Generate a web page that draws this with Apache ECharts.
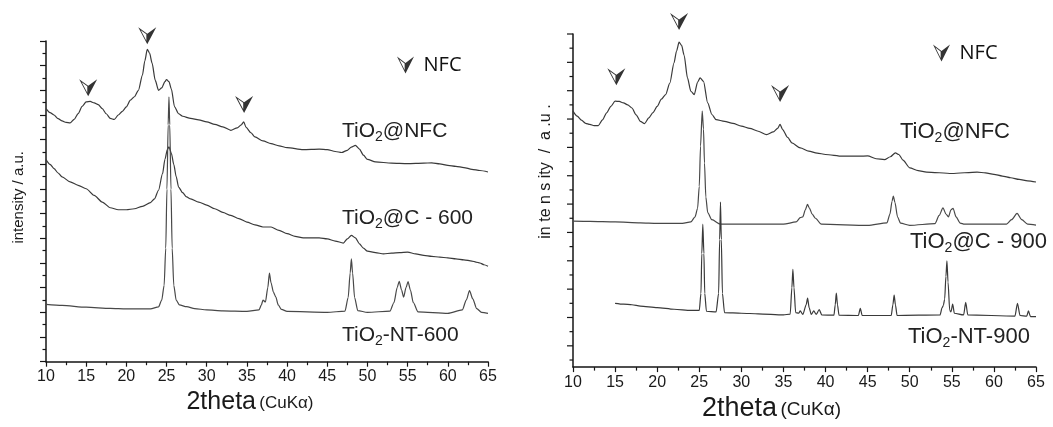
<!DOCTYPE html>
<html>
<head>
<meta charset="utf-8">
<title>XRD TiO2</title>
<script src="https://cdn.jsdelivr.net/npm/echarts@6.0.0/dist/echarts.min.js"></script>
<style>
  html, body { margin: 0; padding: 0; background: #fff; }
  #chart { width: 1053px; height: 427px; }
</style>
</head>
<body>
<div id="chart"></div>
<script>
// left panel (600 °C) - [2theta, intensity in axis units]
var nfcLeft = [[10,10.26],[10.5,10.1],[11,10.0],[11.5,9.85],[12,9.76],[12.5,9.7],[13,9.68],[13.5,9.82],[14,10.06],[14.5,10.35],[15,10.53],[15.5,10.55],[16,10.49],[16.5,10.42],[17,10.26],[17.5,10.05],[18,9.86],[18.5,9.82],[19,10.0],[19.5,10.15],[20,10.33],[20.5,10.6],[21,10.74],[21.5,11.0],[22,11.62],[22.3,12.2],[22.6,12.66],[22.9,12.5],[23.2,12.1],[23.6,11.4],[24,11.0],[24.4,11.1],[24.8,11.35],[25,11.44],[25.3,11.35],[25.6,11.05],[26,10.33],[26.5,10.05],[27,9.95],[28,9.86],[29,9.8],[30,9.72],[31,9.62],[32,9.52],[33,9.38],[33.8,9.48],[34.3,9.6],[34.6,9.72],[34.9,9.5],[35.5,9.28],[36,9.11],[37,8.95],[38,8.84],[39,8.75],[40,8.68],[42,8.6],[44,8.62],[45,8.6],[46,8.52],[46.8,8.48],[47.5,8.57],[48,8.7],[48.5,8.77],[49,8.62],[49.5,8.37],[50,8.2],[51,8.1],[53,8.05],[55,8.03],[57,8.05],[58,8.06],[59,8.02],[60,7.96],[61,7.92],[62,7.87],[63,7.8],[64,7.75],[65,7.69]];
var c600 = [[10,8.19],[10.5,8.0],[11,7.83],[11.5,7.65],[12,7.49],[13,7.29],[14,7.15],[15,7.01],[16,6.74],[17,6.47],[18,6.24],[19,6.16],[20,6.16],[21,6.2],[22,6.3],[23,6.45],[23.5,6.6],[24,6.95],[24.5,7.62],[24.8,8.2],[25.1,8.6],[25.3,8.71],[25.6,8.45],[25.9,8.0],[26.2,7.5],[26.5,7.08],[27,6.85],[27.5,6.68],[28,6.6],[29,6.47],[30,6.35],[31,6.2],[32,6.05],[33,5.93],[34,5.8],[35,5.66],[36,5.55],[37,5.46],[38,5.46],[39,5.32],[40,5.19],[41,5.08],[42,5.02],[43,5.02],[44,5.02],[45,4.98],[46,4.89],[47,4.81],[47.5,4.98],[48,5.12],[48.5,5.02],[49,4.78],[49.5,4.6],[50,4.48],[51,4.42],[52,4.37],[53,4.4],[54,4.42],[55,4.44],[56,4.37],[57,4.31],[58,4.27],[59,4.24],[60,4.21],[61,4.17],[62,4.13],[63,4.08],[63.5,4.04],[64,4.0],[64.5,3.93],[65,3.87]];
var nt600 = [[10,2.32],[12,2.28],[15,2.21],[18,2.16],[20,2.14],[23,2.14],[24,2.22],[24.4,2.5],[24.7,3.1],[24.9,4.6],[25.05,7.0],[25.2,9.6],[25.3,10.74],[25.4,9.6],[25.55,7.0],[25.7,4.6],[25.9,3.1],[26.2,2.5],[26.6,2.3],[27.5,2.23],[28.5,2.15],[30,2.1],[32,2.06],[35,2.04],[36.5,2.1],[36.8,2.3],[37,2.5],[37.3,2.42],[37.6,3.0],[37.8,3.59],[38.0,3.2],[38.3,2.82],[38.6,2.62],[38.9,2.3],[39.3,2.12],[40,2.04],[45,2.0],[47.2,2.05],[47.6,2.6],[47.85,3.6],[48.0,4.17],[48.15,3.6],[48.4,2.6],[48.8,2.07],[50,2.0],[52.8,2.05],[53.3,2.4],[53.7,3.0],[53.95,3.26],[54.25,2.9],[54.5,2.62],[54.8,3.0],[55.05,3.25],[55.35,2.9],[55.7,2.4],[56.3,2.02],[60,1.96],[61.8,2.1],[62.3,2.5],[62.7,2.88],[63.1,2.55],[63.6,2.15],[64.2,2.0],[65,1.96]];

// right panel (900 °C)
var nfcRight = [[10,9.03],[10.5,8.85],[11,8.71],[11.5,8.6],[12,8.56],[12.5,8.52],[13,8.52],[13.5,8.72],[14,8.97],[14.5,9.2],[15,9.38],[15.5,9.37],[16,9.32],[16.5,9.25],[17,9.14],[17.5,8.9],[18,8.67],[18.5,8.59],[19,8.79],[19.5,8.98],[20,9.2],[20.5,9.45],[21,9.61],[21.5,10.02],[22,10.73],[22.3,11.15],[22.6,11.46],[22.9,11.35],[23.2,11.0],[23.6,10.2],[24,9.73],[24.4,9.61],[24.8,10.05],[25.1,10.2],[25.5,10.08],[26,9.32],[26.5,8.91],[27,8.73],[28,8.67],[29,8.6],[30,8.5],[31,8.42],[32,8.32],[33,8.2],[33.8,8.3],[34.3,8.42],[34.6,8.56],[34.9,8.38],[35.5,8.1],[36,7.91],[37,7.73],[38,7.62],[39,7.55],[40,7.5],[42,7.44],[44,7.44],[45,7.45],[46,7.35],[47,7.32],[47.7,7.42],[48.3,7.56],[48.7,7.5],[49.2,7.3],[50,7.03],[51,6.93],[52,6.88],[55,6.83],[58,6.88],[59,6.85],[60,6.8],[61,6.74],[62,6.68],[63,6.62],[64,6.57],[65,6.53]];
var c900 = [[10,5.15],[12,5.14],[15,5.12],[18,5.09],[20,5.07],[23,5.07],[24,5.12],[24.5,5.3],[24.8,5.6],[25.0,6.38],[25.15,7.8],[25.35,9.03],[25.5,8.4],[25.62,7.2],[25.78,6.0],[26.0,5.45],[26.5,5.2],[27.5,5.04],[30,5.04],[35,5.04],[36.5,5.12],[37.0,5.27],[37.3,5.3],[37.6,5.55],[37.85,5.74],[38.1,5.6],[38.4,5.4],[38.8,5.25],[39.5,5.04],[45,5.0],[47.3,5.09],[47.65,5.4],[47.9,5.85],[48.05,6.03],[48.25,5.8],[48.55,5.3],[48.9,5.08],[50,5.0],[53,5.06],[53.5,5.35],[53.95,5.62],[54.3,5.4],[54.6,5.3],[54.9,5.55],[55.15,5.6],[55.5,5.3],[56,5.08],[56.5,5.04],[61.5,5.04],[62.1,5.2],[62.75,5.42],[63.3,5.2],[64,5.04],[65,5.01]];
var nt900 = [[15,2.25],[16,2.22],[17,2.2],[18,2.15],[20,2.1],[22,2.04],[24,2.0],[25.0,2.0],[25.2,2.6],[25.3,4.0],[25.42,5.04],[25.55,4.0],[25.65,2.6],[25.85,1.97],[27.0,1.95],[27.3,2.6],[27.42,4.5],[27.52,5.82],[27.62,4.5],[27.75,2.6],[28.0,1.92],[30,1.9],[32,1.88],[35,1.84],[35.8,1.87],[36.0,2.8],[36.12,3.45],[36.25,2.8],[36.45,1.92],[36.8,1.9],[37.0,1.98],[37.3,1.86],[37.7,2.2],[37.87,2.43],[38.05,2.1],[38.3,1.86],[38.6,1.98],[38.9,1.86],[39.25,2.03],[39.55,1.84],[41.0,1.83],[41.15,2.2],[41.28,2.61],[41.42,2.2],[41.6,1.83],[43.9,1.82],[44.13,2.07],[44.35,1.82],[47.8,1.82],[48.0,2.2],[48.15,2.54],[48.3,2.2],[48.5,1.82],[53.6,1.84],[53.85,2.1],[54.0,2.18],[54.15,2.4],[54.3,3.2],[54.42,3.75],[54.55,3.0],[54.75,2.0],[54.9,1.95],[55.1,2.22],[55.3,1.9],[56.4,1.84],[56.65,2.28],[56.9,1.84],[62.5,1.8],[62.8,2.25],[63.1,1.82],[63.9,1.8],[64.1,1.98],[64.35,1.78],[65,1.78]];

// NFC reflection markers
var nfcMarksLeft = [[15.25, 11.1], [22.6, 13.21], [34.65, 10.43]];
var nfcMarksRight = [[15.15, 10.24], [22.6, 12.19], [34.6, 9.65]];

// tick values
var xTicks = [10, 15, 20, 25, 30, 35, 40, 45, 50, 55, 60, 65];
var rightMajorTicks = [0.75, 1.75, 2.75, 3.75, 4.75, 5.75, 6.75, 7.75, 8.75, 9.75, 10.75, 11.75];
var rightMinorTicks = [0.25, 1.25, 2.25, 3.25, 4.25, 5.25, 6.25, 7.25, 8.25, 9.25, 10.25, 11.25];

var leftNames = ['@NFC', '@C - 600', '-NT-600'];
var rightNames = ['@NFC', '@C - 900', '-NT-900'];

(function () {
  var myChart = echarts.init(document.getElementById('chart'));

  var AXIS = '#151515';
  var TRACE = '#3a3a3a';
  var FONT = 'Liberation Sans';
  // left half hollow, right half solid
  var NFC_ICON = 'path://M0,0L50,38L50,100ZM14.1,17L45,78.8L45,40.5ZM50,38L100,0L50,100Z';

  function xAxis(gridIndex, gap, padRight, big, small) {
    return {
      type: 'value',
      gridIndex: gridIndex,
      min: xTicks[0],
      max: xTicks[xTicks.length - 1],
      interval: 5,
      axisLine: { lineStyle: { color: AXIS, width: 1.5 } },
      axisTick: { length: 5, lineStyle: { color: AXIS, width: 1.2 } },
      minorTick: { show: true, splitNumber: 2, length: 3.5, lineStyle: { color: AXIS, width: 1.2 } },
      splitLine: { show: false },
      axisLabel: { fontSize: 16, color: '#1a1a1a', fontFamily: FONT, margin: 7 },
      name: '{a|2theta} {b|(CuKα)}',
      nameLocation: 'middle',
      nameGap: gap,
      nameTextStyle: {
        padding: [0, padRight, 0, 0],
        rich: {
          a: { fontSize: big, fontFamily: FONT, color: '#1a1a1a' },
          b: { fontSize: small, fontFamily: FONT, color: '#1a1a1a', padding: [3, 0, 0, 0] }
        }
      }
    };
  }

  function trace(name, data, xi, yi, color) {
    return {
      name: name,
      type: 'line',
      xAxisIndex: xi,
      yAxisIndex: yi,
      data: data,
      showSymbol: false,
      smooth: 0.25,
      smoothMonotone: 'x',
      lineStyle: { color: color, width: 1.2 },
      silent: true
    };
  }

  function marks(data, xi, yi) {
    return {
      name: 'NFC',
      type: 'scatter',
      xAxisIndex: xi,
      yAxisIndex: yi,
      data: data,
      symbol: NFC_ICON,
      symbolSize: [18, 17],
      symbolKeepAspect: false,
      itemStyle: { color: '#000' },
      clip: false,
      silent: true,
      z: 5
    };
  }

  function label(x, y, rest, size) {
    return {
      type: 'text',
      x: x,
      y: y,
      style: {
        text: '{m|TiO}{s|2}{m|' + rest + '}',
        verticalAlign: 'middle',
        rich: {
          m: { fontSize: size, fontFamily: FONT, fill: '#222' },
          s: { fontSize: Math.round(size * 0.65), fontFamily: FONT, fill: '#222', padding: [Math.round(size * 0.55), 0, 0, 0] }
        }
      }
    };
  }

  function legend(left, top) {
    return {
      left: left,
      top: top,
      data: ['NFC'],
      icon: NFC_ICON,
      itemWidth: 20,
      itemHeight: 17,
      selectedMode: false,
      textStyle: { fontSize: 20, fontFamily: 'Open Sans', color: '#111', padding: [0, 0, 0, 3] }
    };
  }

  // right panel y ticks do not start at the axis origin, so they are drawn
  // through the y scale by a small custom series: [value, tick length]
  var rightTickData = rightMajorTicks.map(function (v) { return [v, 6]; })
    .concat(rightMinorTicks.map(function (v) { return [v, 3.5]; }));

  var option = {
    animation: false,
    backgroundColor: '#fff',
    grid: [
      { left: 46, top: 41, width: 442, height: 320.7 },
      { left: 573, top: 34, width: 463, height: 334 }
    ],
    legend: [legend(392, 50), legend(928, 38)],
    xAxis: [xAxis(0, 28, 34, 25, 17), xAxis(1, 22, 66, 27, 19)],
    yAxis: [
      {
        type: 'value', gridIndex: 0, min: 0, max: 13, interval: 1,
        axisLine: { lineStyle: { color: AXIS, width: 1.5 } },
        axisTick: { length: 6, lineStyle: { color: AXIS, width: 1.2 } },
        minorTick: { show: true, splitNumber: 2, length: 3.5, lineStyle: { color: AXIS, width: 1.2 } },
        axisLabel: { show: false },
        splitLine: { show: false },
        name: 'intensity / a.u.',
        nameLocation: 'middle',
        nameGap: 20,
        nameTextStyle: { fontSize: 15, fontFamily: FONT, color: '#1a1a1a', padding: [0, 0, 0, 8] }
      },
      {
        type: 'value', gridIndex: 1, min: 0, max: 11.75,
        axisLine: { lineStyle: { color: AXIS, width: 1.5 } },
        axisTick: { show: false },
        axisLabel: { show: false },
        splitLine: { show: false },
        name: 'in te n s ity  /  a .u .',
        nameLocation: 'middle',
        nameGap: 19,
        nameTextStyle: { fontSize: 16, fontFamily: FONT, color: '#1a1a1a', padding: [0, 0, 0, 58] }
      }
    ],
    graphic: [
      label(342, 131, leftNames[0], 21),
      label(342, 218, leftNames[1], 21),
      label(342, 335, leftNames[2], 21),
      label(900, 132, rightNames[0], 22),
      label(910, 242, rightNames[1], 22),
      label(908, 337, rightNames[2], 22)
    ],
    series: [
      trace('TiO2@NFC', nfcLeft, 0, 0, TRACE),
      trace('TiO2@C-600', c600, 0, 0, TRACE),
      trace('TiO2-NT-600', nt600, 0, 0, '#484848'),
      trace('TiO2@NFC 900', nfcRight, 1, 1, TRACE),
      trace('TiO2@C-900', c900, 1, 1, '#484848'),
      trace('TiO2-NT-900', nt900, 1, 1, TRACE),
      marks(nfcMarksLeft, 0, 0),
      marks(nfcMarksRight, 1, 1),
      {
        type: 'custom',
        xAxisIndex: 1,
        yAxisIndex: 1,
        silent: true,
        clip: false,
        encode: { y: 0 },
        data: rightTickData,
        renderItem: function (params, api) {
          var p = api.coord([xTicks[0], api.value(0)]);
          var len = api.value(1);
          return {
            type: 'line',
            shape: { x1: p[0] - len, y1: p[1], x2: p[0], y2: p[1] },
            style: { stroke: AXIS, lineWidth: 1.2 }
          };
        }
      }
    ]
  };

  myChart.setOption(option);
  window.addEventListener('resize', function () {
    myChart.resize();
  });
})();
</script>
</body>
</html>
